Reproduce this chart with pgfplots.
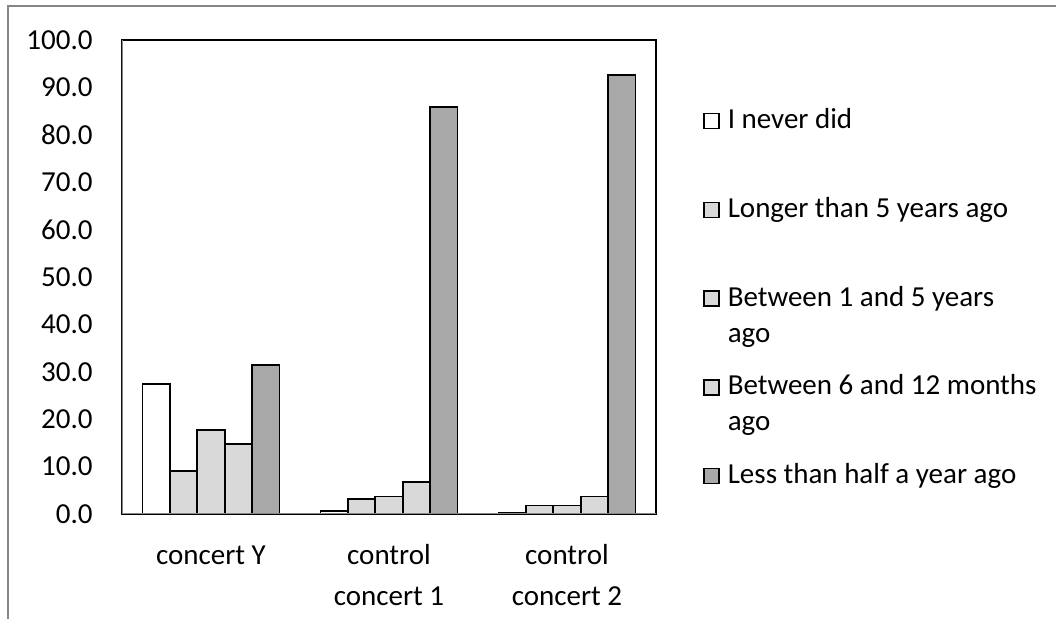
\documentclass[border=0pt]{standalone}
\usepackage{fontspec}
\setmainfont{Carlito}
\usepackage{pgfplots}
\pgfplotsset{compat=1.18}

\definecolor{lightbar}{HTML}{D9D9D9}
\definecolor{darkbar}{HTML}{A8A8A8}
\definecolor{axisgray}{HTML}{868686}

% two lines, baseline on the first one
\newcommand{\twoleft}[2]{\begin{tabular}[t]{@{}l@{}}#1\\#2\end{tabular}}
\newcommand{\twocenter}[2]{{\renewcommand{\arraystretch}{1.13}%
  \begin{tabular}[t]{@{}c@{}}#1\\#2\end{tabular}}}

\begin{document}
\begin{tikzpicture}[font=\fontsize{14.5pt}{18pt}\selectfont]
  \useasboundingbox (0pt,0pt) rectangle (528pt,-309.5pt);
  % chart area frame (cut off at right and bottom)
  \draw[axisgray, line width=1pt] (4pt,-309.5pt) -- (4pt,-3pt) -- (528pt,-3pt);

  \begin{axis}[
      at={(61pt,-20pt)}, anchor=north west,
      scale only axis,
      width=267pt, height=237pt,
      ybar=0pt, bar width=13.7pt,
      xmin=-0.5, xmax=2.5,
      ymin=0, ymax=100,
      xtick={0,1,2},
      xticklabels={concert Y,\twocenter{control}{concert 1},\twocenter{control}{concert 2}},
      ytick={0,10,...,100},
      yticklabel={\pgfmathprintnumber[fixed,fixed zerofill,precision=1]{\tick}},
      /pgf/number format/assume math mode=true,
      major tick length=0pt,
      axis line style={black, line width=0.7pt},
      tick label style={font=\fontsize{14.5pt}{18pt}\selectfont},
      yticklabel style={inner sep=0pt, anchor=east, xshift=-14.5pt},
      xticklabel style={inner sep=0pt, anchor=north,
        text height=9pt, yshift=-16pt},
      legend image code/.code={
        \draw[#1, line width=0.7pt] (0pt,0pt) rectangle (7.5pt,7.5pt);},
      legend style={at={(rel axis cs:1.088,0.8565)}, anchor=north west,
        draw=none, inner sep=0pt, row sep=9.4pt, column sep=4pt,
        nodes={inner sep=0pt, text height=10pt, text depth=25pt},
        cells={anchor=base west},
        font=\fontsize{14.5pt}{18pt}\selectfont},
    ]

    \addplot[draw=black, line width=0.9pt, fill=white]
      coordinates {(0,27.4) (1,0.6) (2,0.3)};
    \addlegendentry{I never did}

    \addplot[draw=black, line width=0.9pt, fill=lightbar]
      coordinates {(0,9.1) (1,3.2) (2,1.8)};
    \addlegendentry{Longer than 5 years ago}

    \addplot[draw=black, line width=0.9pt, fill=lightbar]
      coordinates {(0,17.7) (1,3.7) (2,1.8)};
    \addlegendentry{\twoleft{Between 1 and 5 years}{ago}}

    \addplot[draw=black, line width=0.9pt, fill=lightbar]
      coordinates {(0,14.8) (1,6.8) (2,3.7)};
    \addlegendentry{\twoleft{Between 6 and 12 months}{ago}}

    \addplot[draw=black, line width=0.9pt, fill=darkbar]
      coordinates {(0,31.4) (1,85.9) (2,92.6)};
    \addlegendentry{Less than half a year ago}

    % gray value and category axes over the plot area border
    \draw[axisgray, line width=0.9pt]
      (rel axis cs:0,1) -- (rel axis cs:0,0) -- (rel axis cs:1,0);
  \end{axis}
\end{tikzpicture}
\end{document}
